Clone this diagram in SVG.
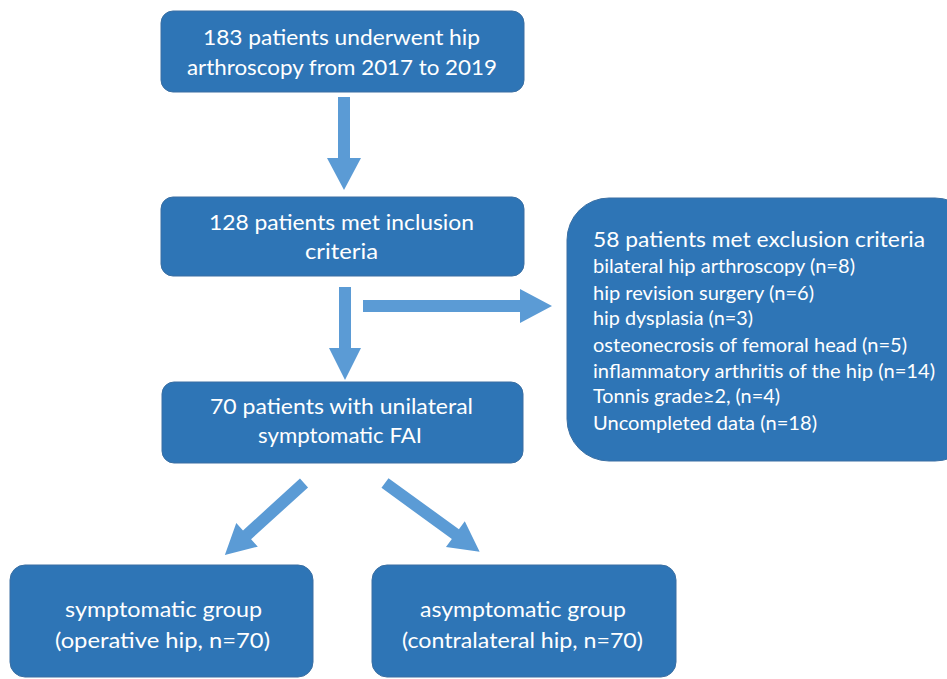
<svg xmlns="http://www.w3.org/2000/svg" width="947" height="679" viewBox="0 0 947 679">
<style>
.box{fill:#2E75B6;stroke:#3A6FA3;stroke-width:1}
.t{font-family:Lato,"Open Sans","Liberation Sans",sans-serif;fill:#ffffff;font-size:22px}
.s{font-size:19px}
.arr{fill:#5B9BD5}
</style>
<rect width="947" height="679" fill="#ffffff"/>
<g id="connectors">
<polygon class="arr" points="338,97 350,97 350,158 361,158 344,190 327,158 338,158"/>
<polygon class="arr" points="339,287 351,287 351,348 361,348 345,380 329,348 339,348"/>
<polygon class="arr" points="363,300 520,300 520,289 552,306 520,323 520,312 363,312"/>
<polygon class="arr" points="0,-6 77,-6 77,-16 107,0 77,16 77,6 0,6" transform="translate(304,483) rotate(137.7)"/>
<polygon class="arr" points="0,-6 87,-6 87,-16 117,0 87,16 87,6 0,6" transform="translate(385,483) rotate(36)"/>
</g>
<g id="n1">
<rect class="box" x="161" y="11" width="363" height="81" rx="12"/>
<text class="t" x="203" y="45" textLength="277" lengthAdjust="spacingAndGlyphs">183 patients underwent hip</text>
<text class="t" x="187" y="75" textLength="310" lengthAdjust="spacingAndGlyphs">arthroscopy from 2017 to 2019</text>
</g>
<g id="n2">
<rect class="box" x="161" y="197" width="363" height="79" rx="12"/>
<text class="t" x="209" y="230" textLength="265" lengthAdjust="spacingAndGlyphs">128 patients met inclusion</text>
<text class="t" x="305" y="259" textLength="73" lengthAdjust="spacingAndGlyphs">criteria</text>
</g>
<g id="n3">
<rect class="box" x="162" y="382" width="361" height="81" rx="12"/>
<text class="t" x="210" y="414" textLength="263" lengthAdjust="spacingAndGlyphs">70 patients with unilateral</text>
<text class="t" x="258" y="443" textLength="164" lengthAdjust="spacingAndGlyphs">symptomatic FAI</text>
</g>
<g id="n_excl">
<rect class="box" x="567" y="198" width="410" height="263" rx="42"/>
<text class="t" x="593" y="247" textLength="332" lengthAdjust="spacingAndGlyphs">58 patients met exclusion criteria</text>
<text class="t s" x="593" y="273" textLength="262" lengthAdjust="spacingAndGlyphs">bilateral hip arthroscopy (n=8)</text>
<text class="t s" x="593" y="300" textLength="221" lengthAdjust="spacingAndGlyphs">hip revision surgery (n=6)</text>
<text class="t s" x="593" y="325" textLength="160" lengthAdjust="spacingAndGlyphs">hip dysplasia  (n=3)</text>
<text class="t s" x="593" y="352" textLength="314" lengthAdjust="spacingAndGlyphs">osteonecrosis of femoral head (n=5)</text>
<text class="t s" x="593" y="378" textLength="342" lengthAdjust="spacingAndGlyphs">inflammatory arthritis of the hip (n=14)</text>
<text class="t s" x="593" y="403" textLength="187" lengthAdjust="spacingAndGlyphs">Tonnis grade≥2, (n=4)</text>
<text class="t s" x="593" y="430" textLength="224" lengthAdjust="spacingAndGlyphs">Uncompleted data (n=18)</text>
</g>
<g id="n4">
<rect class="box" x="10" y="565" width="303" height="112" rx="15"/>
<text class="t" x="65" y="617" textLength="197" lengthAdjust="spacingAndGlyphs">symptomatic group</text>
<text class="t" x="55" y="648" textLength="215" lengthAdjust="spacingAndGlyphs">(operative hip, n=70)</text>
</g>
<g id="n5">
<rect class="box" x="372" y="565" width="304" height="112" rx="15"/>
<text class="t" x="420" y="617" textLength="206" lengthAdjust="spacingAndGlyphs">asymptomatic group</text>
<text class="t" x="402" y="648" textLength="241" lengthAdjust="spacingAndGlyphs">(contralateral hip, n=70)</text>
</g>
</svg>
